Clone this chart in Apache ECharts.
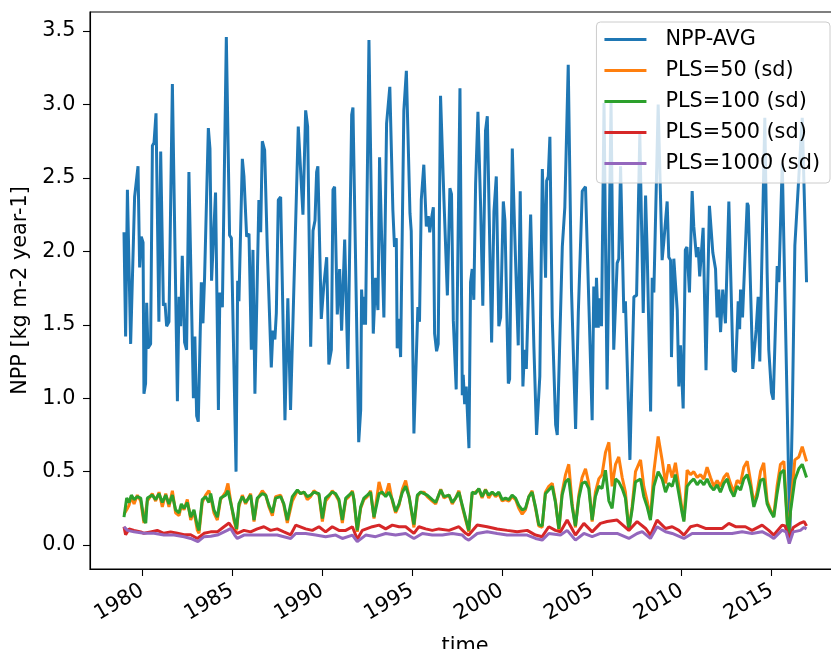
<!DOCTYPE html>
<html>
<head>
<meta charset="utf-8">
<script src="https://cdn.jsdelivr.net/npm/echarts@6/dist/echarts.min.js"></script>
<style>
html,body{margin:0;padding:0;background:#fff;}
#chart{width:831px;height:649px;}
</style>
</head>
<body>
<div id="chart"></div>
<script>
// ---- data (decimal years) ----
const nppYears = [1978.99,1979.08,1979.18,1979.36,1979.58,1979.77,1979.86,1979.95,1980.05,1980.10,1980.19,1980.25,1980.32,1980.47,1980.57,1980.66,1980.77,1980.93,1981.03,1981.18,1981.27,1981.36,1981.49,1981.68,1981.96,1982.05,1982.14,1982.23,1982.36,1982.47,1982.60,1982.85,1982.93,1983.03,1983.12,1983.21,1983.29,1983.38,1983.47,1983.68,1983.77,1983.86,1984.08,1984.24,1984.32,1984.46,1984.68,1984.77,1984.86,1984.96,1985.22,1985.31,1985.38,1985.57,1985.66,1985.81,1985.94,1986.07,1986.16,1986.27,1986.49,1986.59,1986.68,1986.81,1986.96,1987.18,1987.27,1987.38,1987.46,1987.57,1987.70,1987.94,1988.10,1988.25,1988.68,1988.94,1989.09,1989.20,1989.37,1989.50,1989.61,1989.70,1989.77,1989.96,1990.10,1990.26,1990.38,1990.52,1990.61,1990.70,1990.85,1990.98,1991.09,1991.26,1991.44,1991.65,1991.72,1992.04,1992.15,1992.20,1992.29,1992.37,1992.42,1992.61,1992.85,1992.98,1993.11,1993.20,1993.31,1993.44,1993.59,1993.77,1993.94,1994.03,1994.13,1994.18,1994.28,1994.37,1994.55,1994.69,1994.89,1994.96,1995.11,1995.33,1995.42,1995.52,1995.66,1995.80,1995.91,1995.99,1996.07,1996.19,1996.26,1996.37,1996.46,1996.59,1996.78,1996.97,1997.11,1997.20,1997.30,1997.46,1997.55,1997.67,1997.80,1997.85,1997.93,1998.02,1998.17,1998.26,1998.35,1998.44,1998.54,1998.67,1998.82,1998.94,1999.09,1999.19,1999.43,1999.56,1999.69,1999.83,1999.93,2000.08,2000.17,2000.36,2000.43,2000.58,2000.72,2000.91,2001.02,2001.17,2001.26,2001.36,2001.60,2001.69,2001.78,2001.93,2002.11,2002.25,2002.43,2002.49,2002.58,2002.67,2002.80,2002.99,2003.08,2003.36,2003.50,2003.69,2003.87,2004.10,2004.25,2004.47,2004.56,2004.65,2004.84,2005.02,2005.11,2005.21,2005.26,2005.36,2005.45,2005.54,2005.68,2005.85,2006.07,2006.22,2006.41,2006.50,2006.60,2006.78,2006.87,2007.12,2007.34,2007.49,2007.67,2007.86,2007.99,2008.08,2008.27,2008.36,2008.45,2008.69,2008.91,2009.00,2009.19,2009.28,2009.38,2009.43,2009.56,2009.75,2009.84,2009.93,2010.08,2010.20,2010.29,2010.43,2010.58,2010.67,2010.82,2010.91,2011.00,2011.19,2011.35,2011.54,2011.73,2011.88,2011.97,2012.06,2012.16,2012.28,2012.43,2012.62,2012.86,2012.99,2013.14,2013.22,2013.27,2013.38,2013.64,2013.70,2013.95,2014.14,2014.25,2014.34,2014.43,2014.62,2014.75,2014.84,2014.99,2015.09,2015.31,2015.40,2015.59,2016.01,2016.14,2016.29,2016.38,2016.70,2016.94];
const nppValues = [2.13,1.42,2.42,1.37,2.37,2.58,1.89,2.10,2.06,1.03,1.10,1.65,1.34,1.37,2.72,2.74,2.94,1.52,2.68,1.63,1.65,1.49,1.52,3.14,0.98,1.69,1.49,1.97,1.38,1.33,2.54,1.00,1.42,0.88,0.84,0.84,1.79,1.51,1.82,2.84,2.70,1.80,2.40,0.92,1.72,1.62,3.46,3.46,2.11,2.09,0.50,1.80,1.66,2.63,2.51,2.10,2.12,1.33,2.01,1.03,2.35,2.13,2.75,2.69,2.01,1.21,1.46,1.40,1.58,2.35,2.37,0.85,1.68,0.92,2.85,2.25,2.96,2.85,1.35,2.14,2.21,2.54,2.58,1.54,1.77,1.96,1.23,1.33,2.42,2.44,1.57,1.88,1.46,2.08,1.20,2.93,2.98,0.70,0.92,1.74,1.50,1.69,1.50,3.44,1.44,1.82,1.60,2.64,2.12,1.55,2.87,3.12,2.28,2.03,2.09,1.34,1.54,1.28,2.96,3.23,2.26,2.14,0.76,1.62,1.52,2.35,2.59,2.17,2.24,2.13,2.21,2.30,1.44,1.32,1.37,3.06,2.35,1.70,2.43,2.39,1.53,1.06,1.07,3.11,1.02,1.16,0.96,1.08,0.66,1.79,1.88,1.67,2.46,2.95,2.30,1.63,2.82,2.92,1.38,2.27,2.51,1.49,1.55,2.34,2.21,1.10,1.13,2.70,2.10,1.36,2.41,1.08,1.33,1.20,2.25,2.24,1.35,0.75,1.15,2.56,1.82,2.48,2.51,2.78,1.55,0.82,0.75,2.03,2.30,3.27,1.74,0.79,1.58,2.41,2.41,2.44,1.63,0.85,1.76,1.48,1.82,1.48,1.68,1.49,3.01,1.06,3.01,1.33,1.92,1.95,2.58,1.58,1.66,0.58,1.69,1.70,2.80,1.58,2.38,1.99,0.91,1.82,1.72,3.00,1.94,2.06,2.34,1.96,1.94,1.28,1.95,1.60,1.08,1.36,0.93,2.01,2.03,1.72,2.41,2.17,1.96,2.03,1.83,2.16,1.19,2.31,1.99,1.88,1.55,1.74,1.45,1.74,1.51,2.34,1.19,1.18,1.66,1.47,1.74,1.55,2.33,2.31,1.20,1.47,1.69,1.25,1.79,2.91,1.85,1.33,1.04,0.99,1.90,1.79,2.60,0.06,0.83,2.04,2.04,2.91,1.79];

const plsYears = [1978.99,1979.14,1979.27,1979.40,1979.55,1979.73,1979.92,1980.10,1980.20,1980.29,1980.56,1980.75,1980.94,1981.12,1981.31,1981.49,1981.68,1981.86,1982.05,1982.18,1982.33,1982.51,1982.70,1982.88,1983.07,1983.16,1983.34,1983.53,1983.71,1983.81,1983.99,1984.18,1984.36,1984.64,1984.77,1984.92,1985.10,1985.25,1985.38,1985.57,1985.75,1986.03,1986.22,1986.40,1986.68,1986.87,1987.05,1987.24,1987.42,1987.70,1987.88,1988.07,1988.17,1988.35,1988.63,1988.81,1989.00,1989.18,1989.37,1989.55,1989.83,1990.02,1990.20,1990.39,1990.57,1990.76,1990.94,1991.13,1991.32,1991.50,1991.69,1991.78,1991.96,1992.15,1992.33,1992.52,1992.70,1992.89,1992.98,1993.17,1993.35,1993.54,1993.72,1993.91,1994.09,1994.28,1994.47,1994.65,1994.84,1995.11,1995.30,1995.48,1995.67,1995.85,1996.13,1996.32,1996.60,1996.78,1997.06,1997.24,1997.43,1997.61,1997.80,1997.99,1998.16,1998.35,1998.53,1998.72,1998.90,1999.09,1999.27,1999.46,1999.65,1999.83,2000.02,2000.20,2000.39,2000.57,2000.76,2000.94,2001.13,2001.31,2001.50,2001.68,2001.87,2002.05,2002.24,2002.42,2002.61,2002.80,2002.98,2003.17,2003.35,2003.54,2003.72,2003.91,2004.09,2004.28,2004.46,2004.65,2004.83,2005.02,2005.20,2005.39,2005.57,2005.76,2005.95,2006.13,2006.32,2006.50,2006.69,2006.87,2007.06,2007.24,2007.43,2007.71,2007.89,2008.08,2008.26,2008.45,2008.69,2008.91,2009.10,2009.28,2009.47,2009.65,2009.84,2010.02,2010.12,2010.30,2010.49,2010.67,2010.86,2011.04,2011.23,2011.41,2011.60,2011.78,2011.97,2012.15,2012.34,2012.53,2012.71,2012.90,2013.08,2013.27,2013.45,2013.64,2013.82,2014.01,2014.19,2014.38,2014.56,2014.75,2014.93,2015.12,2015.30,2015.49,2015.68,2015.92,2016.05,2016.29,2016.51,2016.70,2016.94];
const pls100Values = [0.19,0.32,0.29,0.34,0.31,0.33,0.32,0.17,0.15,0.32,0.34,0.31,0.35,0.29,0.34,0.28,0.34,0.24,0.22,0.28,0.25,0.29,0.19,0.24,0.13,0.10,0.31,0.33,0.29,0.35,0.24,0.19,0.32,0.34,0.37,0.29,0.19,0.11,0.28,0.33,0.29,0.34,0.17,0.32,0.35,0.34,0.27,0.22,0.32,0.33,0.28,0.17,0.17,0.33,0.375,0.35,0.36,0.33,0.34,0.36,0.35,0.18,0.32,0.34,0.36,0.35,0.31,0.17,0.32,0.34,0.36,0.31,0.10,0.26,0.32,0.34,0.36,0.19,0.18,0.35,0.36,0.33,0.36,0.31,0.23,0.28,0.36,0.40,0.33,0.14,0.34,0.36,0.35,0.34,0.31,0.29,0.375,0.33,0.34,0.29,0.32,0.36,0.27,0.18,0.10,0.36,0.35,0.385,0.33,0.375,0.34,0.36,0.34,0.36,0.31,0.32,0.31,0.34,0.32,0.27,0.24,0.25,0.33,0.36,0.26,0.14,0.13,0.35,0.375,0.40,0.29,0.11,0.34,0.43,0.45,0.26,0.13,0.32,0.42,0.43,0.385,0.17,0.33,0.40,0.385,0.51,0.30,0.25,0.45,0.43,0.385,0.32,0.10,0.24,0.43,0.45,0.33,0.26,0.17,0.40,0.50,0.45,0.36,0.42,0.40,0.48,0.35,0.22,0.16,0.40,0.43,0.45,0.41,0.44,0.41,0.45,0.40,0.375,0.41,0.36,0.42,0.45,0.375,0.33,0.40,0.375,0.45,0.48,0.40,0.26,0.33,0.44,0.45,0.28,0.23,0.19,0.35,0.49,0.51,0.05,0.23,0.445,0.52,0.55,0.46];
const pls50Values = [0.21,0.24,0.27,0.33,0.28,0.34,0.30,0.15,0.14,0.30,0.35,0.30,0.36,0.26,0.35,0.26,0.37,0.22,0.20,0.27,0.24,0.31,0.17,0.23,0.10,0.08,0.29,0.34,0.37,0.33,0.22,0.17,0.31,0.36,0.42,0.30,0.17,0.10,0.26,0.34,0.28,0.35,0.16,0.31,0.37,0.34,0.26,0.20,0.33,0.34,0.27,0.15,0.14,0.30,0.37,0.35,0.36,0.31,0.33,0.37,0.34,0.16,0.30,0.33,0.37,0.34,0.30,0.15,0.31,0.33,0.37,0.30,0.09,0.25,0.31,0.33,0.37,0.18,0.19,0.43,0.35,0.34,0.42,0.30,0.22,0.27,0.38,0.44,0.33,0.12,0.33,0.36,0.36,0.33,0.30,0.28,0.38,0.32,0.34,0.28,0.32,0.37,0.26,0.17,0.09,0.35,0.36,0.38,0.32,0.38,0.32,0.36,0.33,0.35,0.30,0.31,0.30,0.33,0.31,0.25,0.21,0.24,0.33,0.37,0.25,0.13,0.12,0.36,0.40,0.42,0.30,0.10,0.36,0.48,0.55,0.28,0.12,0.34,0.46,0.52,0.42,0.16,0.36,0.45,0.48,0.63,0.70,0.40,0.55,0.60,0.46,0.36,0.10,0.26,0.50,0.58,0.40,0.30,0.18,0.50,0.74,0.58,0.42,0.55,0.46,0.56,0.40,0.24,0.17,0.51,0.48,0.50,0.46,0.48,0.45,0.53,0.46,0.40,0.44,0.40,0.46,0.49,0.42,0.36,0.44,0.42,0.53,0.57,0.44,0.28,0.36,0.50,0.56,0.30,0.24,0.20,0.40,0.55,0.57,0.05,0.25,0.58,0.60,0.67,0.57];

const pls500Years = [1978.99,1979.08,1979.27,1979.55,1979.92,1980.10,1980.47,1980.84,1981.21,1981.58,1981.96,1982.33,1982.70,1983.07,1983.44,1983.81,1984.18,1984.55,1984.83,1985.11,1985.29,1985.66,1986.03,1986.40,1986.77,1987.14,1987.51,1987.88,1988.26,1988.54,1989.09,1989.46,1989.83,1990.20,1990.57,1990.94,1991.32,1991.69,1991.96,1992.24,1992.80,1993.17,1993.54,1993.91,1994.28,1994.65,1995.11,1995.39,1995.76,1996.13,1996.50,1997.06,1997.61,1997.99,1998.16,1998.63,1999.18,1999.74,2000.29,2000.85,2001.41,2001.87,2002.24,2002.61,2002.98,2003.26,2003.63,2004.09,2004.56,2005.02,2005.48,2005.85,2006.41,2007.06,2007.52,2007.99,2008.26,2008.63,2009.10,2009.47,2009.84,2010.12,2010.49,2010.86,2011.32,2011.88,2012.25,2012.62,2012.99,2013.54,2013.91,2014.47,2014.84,2015.12,2015.58,2015.75,2015.97,2016.20,2016.60,2016.80,2016.94];
const pls500Values = [0.125,0.07,0.11,0.10,0.09,0.08,0.09,0.10,0.08,0.09,0.08,0.07,0.07,0.045,0.08,0.09,0.09,0.125,0.15,0.10,0.08,0.10,0.09,0.11,0.125,0.10,0.11,0.09,0.07,0.136,0.11,0.10,0.125,0.09,0.125,0.10,0.10,0.125,0.04,0.10,0.125,0.136,0.11,0.136,0.125,0.125,0.08,0.125,0.11,0.10,0.11,0.10,0.125,0.08,0.068,0.136,0.125,0.11,0.10,0.09,0.10,0.068,0.057,0.125,0.10,0.09,0.17,0.068,0.148,0.09,0.148,0.16,0.17,0.10,0.16,0.113,0.068,0.17,0.113,0.125,0.10,0.068,0.125,0.136,0.113,0.113,0.113,0.148,0.125,0.125,0.10,0.136,0.10,0.068,0.136,0.13,0.04,0.12,0.15,0.16,0.13];

const pls1000Years = [1978.99,1979.18,1979.55,1980.10,1980.66,1981.21,1981.77,1982.33,1982.70,1983.10,1983.44,1983.81,1984.18,1984.73,1984.92,1985.14,1985.29,1985.66,1986.03,1986.77,1987.51,1987.88,1988.26,1988.54,1989.09,1989.65,1990.20,1990.76,1991.13,1991.69,1991.96,1992.43,1992.98,1993.54,1994.09,1994.65,1995.11,1995.58,1996.13,1996.69,1997.24,1997.80,1997.99,1998.16,1998.63,1999.18,1999.74,2000.29,2000.85,2001.41,2001.87,2002.24,2002.61,2003.26,2003.63,2004.09,2004.56,2005.02,2005.48,2005.85,2006.41,2007.06,2007.52,2007.80,2008.26,2008.63,2009.10,2009.47,2010.12,2010.58,2011.13,2011.69,2012.25,2012.80,2013.36,2013.91,2014.47,2014.84,2015.12,2015.58,2015.80,2015.98,2016.20,2016.60,2016.80,2016.94];
const pls1000Values = [0.125,0.10,0.09,0.08,0.08,0.068,0.068,0.057,0.045,0.023,0.057,0.06,0.068,0.10,0.113,0.068,0.045,0.068,0.068,0.068,0.068,0.057,0.045,0.079,0.079,0.068,0.057,0.068,0.045,0.068,0.023,0.068,0.057,0.079,0.068,0.079,0.045,0.079,0.068,0.068,0.079,0.068,0.045,0.034,0.079,0.091,0.079,0.068,0.068,0.068,0.045,0.034,0.079,0.068,0.10,0.034,0.079,0.057,0.079,0.079,0.079,0.045,0.079,0.091,0.045,0.125,0.091,0.079,0.045,0.079,0.079,0.079,0.079,0.079,0.091,0.079,0.091,0.068,0.045,0.102,0.09,0.01,0.09,0.10,0.12,0.11];

const seriesNames = ['NPP-AVG','PLS=50 (sd)','PLS=100 (sd)','PLS=500 (sd)','PLS=1000 (sd)'];
const seriesColors = ['#1f77b4','#ff7f0e','#2ca02c','#d62728','#9467bd'];
const xTickYears = [1980,1985,1990,1995,2000,2005,2010,2015];
const yTickValues = [0,0.5,1,1.5,2,2.5,3,3.5];

function pairs(xs, ys){ return xs.map((x,i)=>[x, ys[i]]); }

const seriesData = [
  pairs(nppYears, nppValues),
  pairs(plsYears, pls50Values),
  pairs(plsYears, pls100Values),
  pairs(pls500Years, pls500Values),
  pairs(pls1000Years, pls1000Values)
];

const FONT = 'DejaVu Sans';
const FS = 20.8;

const chart = echarts.init(document.getElementById('chart'), null, {renderer:'canvas'});
chart.setOption({
  animation: false,
  backgroundColor: '#fff',
  textStyle: {fontFamily: FONT},
  grid: {left: 90, right: -9, top: 12, bottom: 80, show: true, borderColor: '#000', borderWidth: 1.1, containLabel: false, outerBoundsMode: 'none'},
  legend: {
    data: seriesNames,
    orient: 'vertical',
    right: 1, top: 22,
    icon: 'rect', itemWidth: 42, itemHeight: 3, itemGap: 10,
    padding: [7, 10, 9, 8],
    backgroundColor: 'rgba(255,255,255,0.8)',
    borderColor: '#cccccc', borderWidth: 1, borderRadius: 4,
    textStyle: {fontFamily: FONT, fontSize: FS, color: '#000', padding: [0,0,0,14]}
  },
  xAxis: {
    type: 'value', min: 1977.1, max: 2018.8,
    name: 'time', nameLocation: 'middle', nameGap: 67,
    nameTextStyle: {fontFamily: FONT, fontSize: FS, color: '#000'},
    axisLine: {show: true, onZero: false, lineStyle: {color: '#000', width: 1.1}},
    axisTick: {show: true, length: 7, lineStyle: {color: '#000', width: 1.1}, customValues: xTickYears},
    axisLabel: {show: true, rotate: 30, margin: 20, fontFamily: FONT, fontSize: FS, color: '#000', customValues: xTickYears, formatter: v => String(Math.round(v))},
    splitLine: {show: false}
  },
  yAxis: {
    type: 'value', min: -0.163, max: 3.63,
    name: 'NPP [kg m-2 year-1]', nameLocation: 'middle', nameGap: 56, nameRotate: 90,
    nameTextStyle: {fontFamily: FONT, fontSize: FS, color: '#000'},
    axisLine: {show: true, onZero: false, lineStyle: {color: '#000', width: 1.1}},
    axisTick: {show: true, length: 7, lineStyle: {color: '#000', width: 1.1}, customValues: yTickValues},
    axisLabel: {show: true, margin: 14.6, fontFamily: FONT, fontSize: FS, color: '#000', customValues: yTickValues, formatter: v => v.toFixed(1)},
    splitLine: {show: false}
  },
  series: seriesNames.map((n,i)=>({
    name: n, type: 'line', data: seriesData[i],
    showSymbol: false, symbol: 'none',
    lineStyle: {color: seriesColors[i], width: 3},
    itemStyle: {color: seriesColors[i]},
    clip: true
  }))
});
</script>
</body>
</html>
